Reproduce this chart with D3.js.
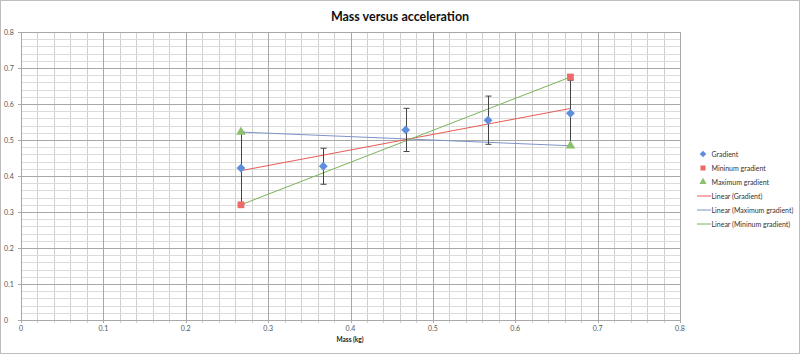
<!DOCTYPE html>
<html>
<head>
<meta charset="utf-8">
<script src="https://cdn.jsdelivr.net/npm/d3@7"></script>
<style>
  body { margin: 0; background: #fff; }
  svg { display: block; font-family: Lato, "Open Sans", sans-serif; }
</style>
</head>
<body>
<div id="chart"></div>
<script>
const width = 800;
const height = 354;

// values
const massValues = [0.267, 0.367, 0.467, 0.567, 0.667];
const gradientValues = [0.422, 0.427, 0.528, 0.555, 0.574];
const errorValues = [0.1, 0.05, 0.06, 0.067, 0.092];
const minMass = [0.267, 0.667];
const minGradientValues = [0.32, 0.675];
const maxMass = [0.267, 0.667];
const maxGradientValues = [0.522, 0.484];
const tickValues = [0, 0.1, 0.2, 0.3, 0.4, 0.5, 0.6, 0.7, 0.8];
const legendLabels = ["Gradient", "Mininum gradient", "Maximum gradient",
  "Linear (Gradient)", "Linear (Maximum gradient)", "Linear (Mininum gradient)"];

const margin = {left: 21, right: 120, top: 32, bottom: 34};

const svg = d3.select("#chart").append("svg")
  .attr("width", width)
  .attr("height", height);

// outer border
svg.append("rect")
  .attr("x", 0.5).attr("y", 0.5)
  .attr("width", width - 1).attr("height", height - 1)
  .attr("fill", "#fff").attr("stroke", "#bdbdbd");

const x = d3.scaleLinear().domain([0, 0.8]).range([margin.left, 680]);
const y = d3.scaleLinear().domain([0, 0.8]).range([320, margin.top]);

const minor = d3.range(0, 0.8001, 0.02);

// minor grid
svg.append("g").selectAll("line").data(minor).enter().append("line")
  .attr("x1", d => Math.round(x(d)) + 0.5).attr("x2", d => Math.round(x(d)) + 0.5)
  .attr("y1", y(0.8)).attr("y2", y(0) + 3)
  .attr("stroke", "#d0d0d0").attr("stroke-width", 1);
svg.append("g").selectAll("line").data(minor).enter().append("line")
  .attr("y1", d => Math.round(y(d)) + 0.5).attr("y2", d => Math.round(y(d)) + 0.5)
  .attr("x1", x(0)).attr("x2", x(0.8))
  .attr("stroke", "#dcdcdc").attr("stroke-width", 1);

// major grid
svg.append("g").selectAll("line").data(tickValues).enter().append("line")
  .attr("x1", d => Math.round(x(d)) + 0.5).attr("x2", d => Math.round(x(d)) + 0.5)
  .attr("y1", y(0.8)).attr("y2", y(0) + 3)
  .attr("stroke", "#a8a8a8");
svg.append("g").selectAll("line").data(tickValues).enter().append("line")
  .attr("y1", d => Math.round(y(d)) + 0.5).attr("y2", d => Math.round(y(d)) + 0.5)
  .attr("x1", x(0) - 3).attr("x2", x(0.8))
  .attr("stroke", "#a8a8a8");

// tick labels
svg.append("g").selectAll("text").data(tickValues).enter().append("text")
  .attr("x", d => x(d)).attr("y", y(0) + 11)
  .attr("text-anchor", "middle")
  .attr("font-size", 7).attr("fill", "#555")
  .text(d => d3.format("")(+d.toFixed(1)));
svg.append("g").selectAll("text").data(tickValues).enter().append("text")
  .attr("x", 4).attr("y", d => y(d) + 2.5)
  .attr("font-size", 7).attr("fill", "#555")
  .text(d => d3.format("")(+d.toFixed(1)));

// title & axis label
svg.append("text")
  .attr("x", 400).attr("y", 21)
  .attr("text-anchor", "middle")
  .attr("font-size", 12.5).attr("font-weight", "bold").attr("fill", "#111")
  .text("Mass versus acceleration");
svg.append("text")
  .attr("x", 350).attr("y", 342)
  .attr("text-anchor", "middle")
  .attr("font-size", 6.5).attr("font-weight", "bold").attr("fill", "#222")
  .text("Mass (kg)");

// linear fit
function fit(xs, ys) {
  const mx = d3.mean(xs), my = d3.mean(ys);
  const slope = d3.sum(xs, (v, i) => (v - mx) * (ys[i] - my)) / d3.sum(xs, v => (v - mx) * (v - mx));
  const b = my - slope * mx;
  const ext = d3.extent(xs);
  return ext.map(v => [v, slope * v + b]);
}

const line = d3.line().x(d => x(d[0])).y(d => y(d[1]));
const trends = [
  {pts: fit(maxMass, maxGradientValues), color: "#7d93c9"},
  {pts: fit(massValues, gradientValues), color: "#e85a55"},
  {pts: fit(minMass, minGradientValues), color: "#79b45a"}
];
svg.append("g").selectAll("path").data(trends).enter().append("path")
  .attr("d", d => line(d.pts))
  .attr("fill", "none").attr("stroke", d => d.color).attr("stroke-width", 1);

// error bars
const err = svg.append("g").attr("stroke", "#444").attr("stroke-width", 1);
massValues.forEach((m, i) => {
  const px = Math.round(x(m)) + 0.5;
  const top = y(gradientValues[i] + errorValues[i]);
  const bot = y(gradientValues[i] - errorValues[i]);
  err.append("line").attr("x1", px).attr("x2", px).attr("y1", top).attr("y2", bot);
  err.append("line").attr("x1", px - 3).attr("x2", px + 3).attr("y1", top).attr("y2", top);
  err.append("line").attr("x1", px - 3).attr("x2", px + 3).attr("y1", bot).attr("y2", bot);
});

const blue = "#5d8fdc", red = "#ec6b69", green = "#8cc06d";
const diamond = d3.symbol().type(d3.symbolDiamond2).size(50);
const square = d3.symbol().type(d3.symbolSquare).size(46);
const triangle = d3.symbol().type(d3.symbolTriangle).size(40);

svg.append("g").selectAll("path").data(minMass).enter().append("path")
  .attr("d", square)
  .attr("transform", (d, i) => `translate(${x(d)},${y(minGradientValues[i])})`)
  .attr("fill", red);
svg.append("g").selectAll("path").data(maxMass).enter().append("path")
  .attr("d", triangle)
  .attr("transform", (d, i) => `translate(${x(d)},${y(maxGradientValues[i])})`)
  .attr("fill", green);
svg.append("g").selectAll("path").data(massValues).enter().append("path")
  .attr("d", diamond)
  .attr("transform", (d, i) => `translate(${x(d)},${y(gradientValues[i])})`)
  .attr("fill", blue);

// legend
const legend = svg.append("g").attr("transform", "translate(703,154)");
const legendKeys = [
  {type: "mark", shape: diamond, color: blue},
  {type: "mark", shape: square, color: red},
  {type: "mark", shape: triangle, color: green},
  {type: "line", color: "#e85a55"},
  {type: "line", color: "#7d93c9"},
  {type: "line", color: "#79b45a"}
];
legendLabels.forEach((lab, i) => {
  const g = legend.append("g").attr("transform", `translate(0,${i * 14})`);
  const k = legendKeys[i];
  if (k.type === "mark") {
    g.append("path").attr("d", k.shape).attr("fill", k.color)
      .attr("transform", "scale(0.75)");
  } else {
    g.append("line").attr("x1", -6).attr("x2", 8).attr("y1", 0).attr("y2", 0)
      .attr("stroke", k.color);
  }
  g.append("text").attr("x", 8.5).attr("y", 2.5)
    .attr("font-size", 7).attr("fill", "#333").text(lab);
});
</script>
</body>
</html>
